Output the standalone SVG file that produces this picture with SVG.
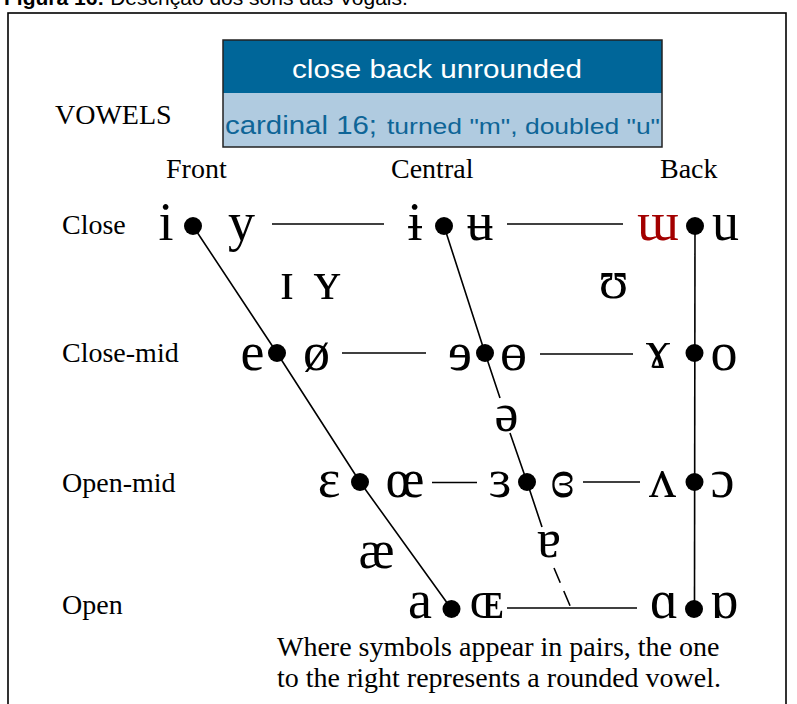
<svg xmlns="http://www.w3.org/2000/svg" width="797" height="704" viewBox="0 0 797 704">
<style>
.cap{font-family:"Liberation Sans",Arial,sans-serif;font-size:21px;fill:#000}
.lbl{font-family:"Liberation Serif","Times New Roman",serif;font-size:28px;fill:#000}
.ipa{font-family:"Liberation Serif","DejaVu Serif",serif;font-size:54px;fill:#000;text-anchor:middle}
.red{fill:#a30000}
.hd{font-family:"Liberation Sans",Arial,sans-serif;fill:#fff}
.hd2{font-family:"Liberation Sans",Arial,sans-serif;fill:#0e6597}
.ln{stroke:#000;stroke-width:1.6;fill:none}
.dot{fill:#000}
</style>
<rect width="797" height="704" fill="#fff"/>
<text class="cap" x="4" y="5"><tspan font-weight="bold">Figura 16:</tspan> Descrição dos sons das Vogais.</text>
<rect x="8" y="13" width="778" height="700" fill="none" stroke="#000" stroke-width="1.6"/>

<g id="header">
<rect x="223" y="40" width="439" height="53" fill="#006699"/>
<rect x="223" y="93" width="439" height="54" fill="#b0cbe0"/>
<rect x="223" y="40" width="439" height="107" fill="none" stroke="#222" stroke-width="1.5"/>
<text class="hd" x="292" y="78" font-size="25" textLength="290" lengthAdjust="spacingAndGlyphs">close back unrounded</text>
<text class="hd2" x="225" y="134" font-size="25" textLength="152" lengthAdjust="spacingAndGlyphs">cardinal 16;</text>
<text class="hd2" x="387" y="134" font-size="22" textLength="273" lengthAdjust="spacingAndGlyphs">turned "m", doubled "u"</text>
</g>

<g id="labels">
<text class="lbl" x="55" y="124">VOWELS</text>
<text class="lbl" x="166" y="178">Front</text>
<text class="lbl" x="391" y="178">Central</text>
<text class="lbl" x="660" y="178">Back</text>
<text class="lbl" x="62" y="234">Close</text>
<text class="lbl" x="62" y="362">Close-mid</text>
<text class="lbl" x="62" y="492">Open-mid</text>
<text class="lbl" x="62" y="614">Open</text>
</g>

<g id="connectors">
<polyline class="ln" points="193,226 277,353 360,482 451.5,609"/>
<polyline class="ln" points="444,226 485,353 500,398"/>
<polyline class="ln" points="510,433 527,482 542,527"/>
<line class="ln" x1="554" y1="568" x2="571" y2="608" stroke-dasharray="16,9"/>
<line class="ln" x1="695" y1="226" x2="694.5" y2="609"/>
<line class="ln" x1="272" y1="224" x2="384" y2="224"/>
<line class="ln" x1="507" y1="224" x2="623" y2="224"/>
<line class="ln" x1="342" y1="353" x2="426" y2="353"/>
<line class="ln" x1="540" y1="354" x2="633" y2="354"/>
<line class="ln" x1="432" y1="482.5" x2="477" y2="482.5"/>
<line class="ln" x1="583" y1="482" x2="640" y2="482"/>
<line class="ln" x1="507" y1="608" x2="637" y2="608"/>
</g>

<g id="close-front"><text class="ipa" x="166" y="240">i</text><circle class="dot" cx="193" cy="226" r="9"/><text class="ipa" x="241.5" y="240">y</text></g>
<g id="close-central"><text class="ipa" x="415" y="240">ɨ</text><circle class="dot" cx="444" cy="226" r="9"/><text class="ipa" x="480" y="240">ʉ</text></g>
<g id="close-back"><text class="ipa red" x="658" y="240">ɯ</text><circle class="dot" cx="695" cy="226" r="9"/><text class="ipa" x="725.5" y="240">u</text></g>
<g id="near-close-front"><text class="ipa" x="287" y="299">ɪ</text><text class="ipa" x="327" y="299">ʏ</text></g>
<g id="near-close-back"><text class="ipa" x="613.5" y="298">ʊ</text></g>
<g id="close-mid-front"><text class="ipa" x="252.5" y="370">e</text><circle class="dot" cx="277" cy="353" r="9"/><text class="ipa" x="316.5" y="370">ø</text></g>
<g id="close-mid-central"><text class="ipa" x="460" y="370">ɘ</text><circle class="dot" cx="485" cy="353" r="9"/><text class="ipa" x="513.5" y="370">ɵ</text></g>
<g id="close-mid-back"><text class="ipa" x="658" y="368">ɤ</text><circle class="dot" cx="694.5" cy="353" r="9"/><text class="ipa" x="724" y="370">o</text></g>
<g id="mid-central"><text class="ipa" x="506.5" y="431">ə</text></g>
<g id="open-mid-front"><text class="ipa" x="329" y="497">ɛ</text><circle class="dot" cx="360" cy="482" r="9"/><text class="ipa" x="405" y="497">œ</text></g>
<g id="open-mid-central"><text class="ipa" x="500" y="497">ɜ</text><circle class="dot" cx="527" cy="482" r="9"/><text class="ipa" x="562.5" y="497">ɞ</text></g>
<g id="open-mid-back"><text class="ipa" x="662.5" y="497">ʌ</text><circle class="dot" cx="694.5" cy="482" r="9"/><text class="ipa" x="722.5" y="497">ɔ</text></g>
<g id="near-open-front"><text class="ipa" x="376.5" y="568">æ</text></g>
<g id="near-open-central"><text class="ipa" x="549" y="557">ɐ</text></g>
<g id="open-front"><text class="ipa" x="420" y="618">a</text><circle class="dot" cx="451.5" cy="609" r="9"/><text class="ipa" x="486.7" y="618">ɶ</text></g>
<g id="open-back"><text class="ipa" x="664" y="618">ɑ</text><circle class="dot" cx="694" cy="609" r="9"/><text class="ipa" x="724" y="618">ɒ</text></g>

<g id="note">
<text class="lbl" x="277" y="656">Where symbols appear in pairs, the one</text>
<text class="lbl" x="277" y="687">to the right represents a rounded vowel.</text>
</g>
</svg>
